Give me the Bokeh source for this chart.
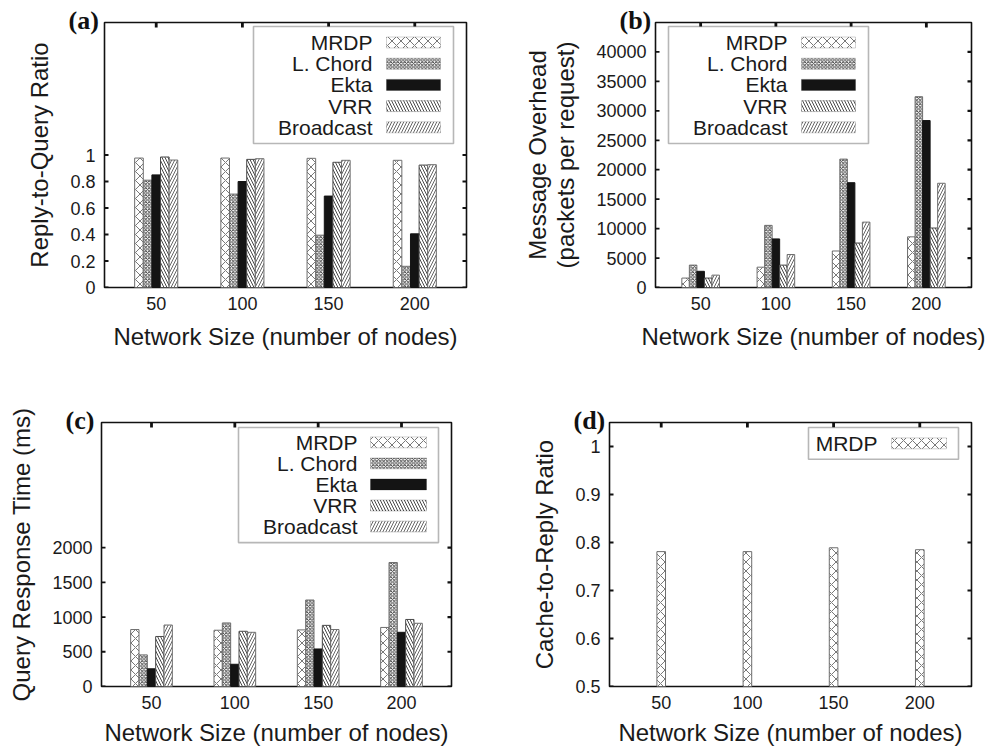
import math
from bokeh.plotting import figure
from bokeh.models import (ColumnDataSource, FixedTicker, Range1d,
                          NumeralTickFormatter, Label, BoxAnnotation)
from bokeh.layouts import column, row
from bokeh.transform import dodge
from bokeh.embed import file_html
from bokeh.resources import INLINE

# ---------------- data ----------------
sizes = ["50", "100", "150", "200"]
series = ["MRDP", "L. Chord", "Ekta", "VRR", "Broadcast"]

reply_mrdp = [0.977, 0.977, 0.975, 0.960]
reply_chord = [0.810, 0.705, 0.395, 0.160]
reply_ekta = [0.850, 0.800, 0.690, 0.405]
reply_vrr = [0.985, 0.967, 0.945, 0.924]
reply_bcast = [0.962, 0.972, 0.960, 0.927]

ovh_mrdp = [1600, 3450, 6200, 8600]
ovh_chord = [3800, 10550, 21800, 32400]
ovh_ekta = [2750, 8250, 17800, 28350]
ovh_vrr = [1600, 3800, 7550, 10100]
ovh_bcast = [2100, 5600, 11100, 17700]

resp_mrdp = [820, 810, 815, 850]
resp_chord = [455, 915, 1245, 1785]
resp_ekta = [255, 320, 540, 780]
resp_vrr = [720, 795, 880, 965]
resp_bcast = [885, 780, 820, 910]

cache_mrdp = [0.781, 0.781, 0.789, 0.785]

# ---------------- styles ----------------
FONT = "Liberation Sans"
STYLES = {
    "MRDP": dict(fill_color="white", line_color="#6e6e6e", hatch_pattern="x",
                 hatch_color="#555555", hatch_scale=9, hatch_weight=0.8),
    "L. Chord": dict(fill_color="white", line_color="#6e6e6e", hatch_pattern="x",
                     hatch_color="#3a3a3a", hatch_scale=3.5, hatch_weight=0.9),
    "Ekta": dict(fill_color="#141414", line_color="#141414"),
    "VRR": dict(fill_color="white", line_color="#4a4a4a", hatch_pattern="\\",
                hatch_color="#333333", hatch_scale=6, hatch_weight=0.9),
    "Broadcast": dict(fill_color="white", line_color="#6e6e6e", hatch_pattern="/",
                      hatch_color="#555555", hatch_scale=6, hatch_weight=0.9),
}
X_RANGE = (-0.6, 3.6)
BAR_W = 0.1
TICK_COLOR = "#111111"


def make_panel(names, values, y_range, y_ticks, fmt, ylabel, letter, geom, leg,
               xlabel_standoff=10):
    w, h, bl, br, bt, bb = geom
    p = figure(width=w, height=h, x_range=Range1d(*X_RANGE), y_range=Range1d(*y_range),
               output_backend="svg", toolbar_location=None,
               min_border_left=bl, min_border_right=br, min_border_top=bt,
               min_border_bottom=bb)
    p.xgrid.visible = False
    p.ygrid.visible = False
    p.outline_line_color = "#111111"
    p.outline_line_width = 1.6
    p.background_fill_color = "white"
    p.border_fill_color = "white"

    xs = list(range(len(sizes)))
    data = dict(x=xs)
    for i, v in enumerate(values):
        data["s%d" % i] = v
    src = ColumnDataSource(data)
    n = len(names)
    for i, name in enumerate(names):
        off = (i - (n - 1) / 2) * BAR_W
        p.vbar(x=dodge("x", off, range=p.x_range), top="s%d" % i, bottom=0,
               width=BAR_W, source=src, line_width=1, **STYLES[name])

    # gnuplot-style inward tick marks on framed sides (inner half of a clipped dash)
    ex = (X_RANGE[1] - X_RANGE[0]) * 1e-6
    ey = (y_range[1] - y_range[0]) * 1e-6
    p.scatter(x=[X_RANGE[0] + ex] * len(y_ticks), y=y_ticks, marker="dash",
              size=8, line_color=TICK_COLOR, line_width=1.8)
    p.scatter(x=[X_RANGE[1] - ex] * len(y_ticks), y=y_ticks, marker="dash",
              size=8, line_color=TICK_COLOR, line_width=2.2)
    p.scatter(x=xs, y=[y_range[1] - ey] * len(xs), marker="dash", angle=math.pi / 2,
              size=10, line_color=TICK_COLOR, line_width=2.8)

    # bottom axis
    xa = p.xaxis[0]
    xa.ticker = FixedTicker(ticks=xs)
    xa.major_label_overrides = {i: s for i, s in enumerate(sizes)}
    xa.major_tick_in = 0
    xa.major_tick_out = 0
    xa.minor_tick_line_color = None
    xa.axis_line_color = None
    xa.major_label_text_font = FONT
    xa.major_label_text_font_size = "18px"
    xa.major_label_text_color = "#1a1a1a"
    xa.major_label_standoff = 9
    xa.axis_label = "Network Size (number of nodes)"
    xa.axis_label_text_font = FONT
    xa.axis_label_text_font_size = "24px"
    xa.axis_label_text_font_style = "normal"
    xa.axis_label_text_color = "#1a1a1a"
    xa.axis_label_standoff = xlabel_standoff

    # left axis
    ya = p.yaxis[0]
    ya.ticker = FixedTicker(ticks=y_ticks)
    ya.formatter = NumeralTickFormatter(format=fmt)
    ya.major_tick_in = 0
    ya.major_tick_out = 0
    ya.minor_tick_line_color = None
    ya.axis_line_color = None
    ya.major_label_text_font = FONT
    ya.major_label_text_font_size = "18px"
    ya.major_label_text_color = "#1a1a1a"
    ya.major_label_standoff = 9
    ya.axis_label = ylabel
    ya.axis_label_text_font = FONT
    ya.axis_label_text_font_size = "24px"
    ya.axis_label_text_font_style = "normal"
    ya.axis_label_text_color = "#1a1a1a"
    ya.axis_label_text_line_height = 1.05
    ya.axis_label_standoff = 14

    # panel letter as title, pushed left of the frame
    p.title.text = letter
    p.title.align = "left"
    p.title.offset = -36
    p.title.standoff = -25
    p.title.text_font = "Liberation Serif"
    p.title.text_font_style = "bold"
    p.title.text_font_size = "26px"
    p.title.text_color = "#111111"

    # helper: pixel offsets from frame top-left -> data coords
    fw = w - bl - br
    fh = h - bt - bb

    def dx(px):
        return X_RANGE[0] + px / fw * (X_RANGE[1] - X_RANGE[0])

    def dy(py):
        return y_range[1] - py / fh * (y_range[1] - y_range[0])

    # legend (gnuplot style: label then swatch)
    l, t, r, b, text_r, sw_l, sw_r, row0, step = leg
    p.add_layout(BoxAnnotation(left=dx(l), right=dx(r), top=dy(t), bottom=dy(b),
                               fill_color="white", fill_alpha=1.0,
                               line_color="#111111", line_width=1.6))
    for i, name in enumerate(names):
        yc = row0 + i * step
        p.add_layout(BoxAnnotation(left=dx(sw_l), right=dx(sw_r), top=dy(yc - 5.5),
                                   bottom=dy(yc + 5.5), fill_alpha=1.0, line_width=1,
                                   **STYLES[name]))
        p.add_layout(Label(x=dx(text_r), y=dy(yc), text=name, text_align="right",
                           text_baseline="middle", text_font=FONT,
                           text_font_size="21px", text_color="#1a1a1a"))
    return p


pa = make_panel(series, [reply_mrdp, reply_chord, reply_ekta, reply_vrr, reply_bcast],
                (0, 2.0), [0, 0.2, 0.4, 0.6, 0.8, 1.0], "0.[0]",
                "Reply-to-Query Ratio", "(a)",
                (498, 368, 104, 32, 22, 81),
                (149, 4, 349, 121, 268, 282, 336, 20, 21.2))

pb = make_panel(series, [ovh_mrdp, ovh_chord, ovh_ekta, ovh_vrr, ovh_bcast],
                (0, 45000), list(range(0, 40001, 5000)), "0",
                "Message Overhead\n(packets per request)", "(b)",
                (496, 368, 157, 23, 22, 81),
                (13, 4, 213, 121, 132, 146, 200, 20, 21.2))

pc = make_panel(series, [resp_mrdp, resp_chord, resp_ekta, resp_vrr, resp_bcast],
                (0, 3800), [0, 500, 1000, 1500, 2000], "0",
                "Query Response Time (ms)", "(c)",
                (498, 380, 101, 47, 54, 60),
                (137, 5, 337, 121, 256, 269, 325, 20, 21.2),
                xlabel_standoff=7)

pd = make_panel(["MRDP"], [cache_mrdp],
                (0.5, 1.05), [0.5, 0.6, 0.7, 0.8, 0.9, 1.0], "0.[0]",
                "Cache-to-Reply Ratio", "(d)",
                (496, 380, 111, 23, 54, 60),
                (199, 5, 349, 37, 268, 282, 337, 21, 21.2),
                xlabel_standoff=7)

layout = column(row(pa, pb), row(pc, pd))
open("out.html", "w").write(file_html(layout, INLINE))
